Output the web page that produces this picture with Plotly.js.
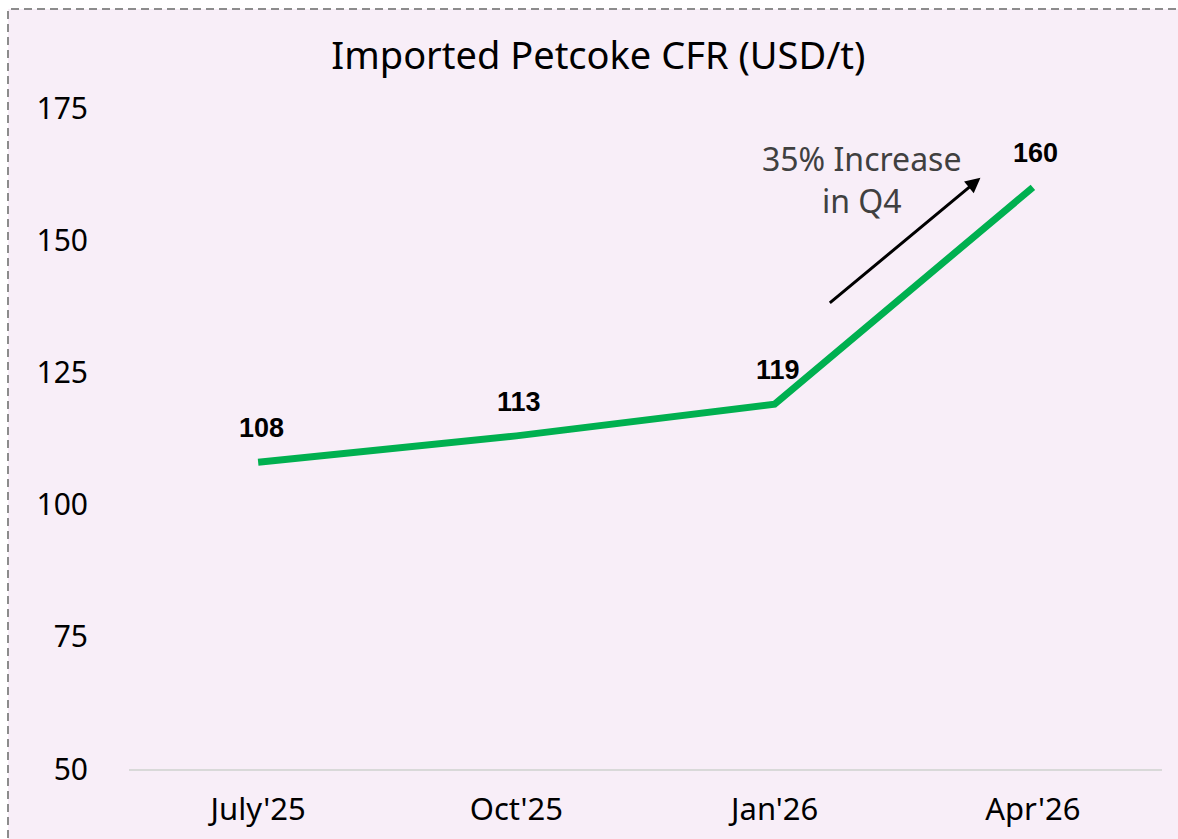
<!DOCTYPE html>
<html><head><meta charset="utf-8">
<script src="https://cdn.plot.ly/plotly-3.0.1.min.js"></script>
<style>html,body{margin:0;padding:0;background:#fff;}#chart{width:1178px;height:839px;}</style>
</head><body><div id="chart"></div>
<script>
const categories = ["July'25", "Oct'25", "Jan'26", "Apr'26"];
const prices = [108, 113, 119, 160];
const yTicks = [50, 75, 100, 125, 150, 175];
const titleText = "Imported Petcoke CFR (USD/t)";
const noteText = "35% Increase<br>in Q4";

const trace = {
  x: [0, 1, 2, 3], y: prices, type: 'scatter', mode: 'lines',
  line: {color: '#00B050', width: 7}, hoverinfo: 'skip'
};

const labelAnn = prices.map((v, i) => ({
  x: i, y: v, xref: 'x', yref: 'y', text: '<b>' + v + '</b>', showarrow: false,
  yanchor: 'bottom', yshift: 17, xshift: 3,
  font: {family: 'Liberation Sans, Arial, sans-serif', size: 27, color: '#000'}
}));

const layout = {
  width: 1178, height: 839,
  paper_bgcolor: '#ffffff', plot_bgcolor: 'rgba(0,0,0,0)',
  margin: {l: 129, r: 16, t: 108, b: 70},
  showlegend: false,
  title: {text: titleText, x: 0.508, xref: 'container', y: 0.934, yref: 'container',
          xanchor: 'center', yanchor: 'middle',
          font: {family: 'Noto Sans, sans-serif', size: 38, color: '#000'}},
  xaxis: {
    range: [-0.5, 3.5], tickmode: 'array', tickvals: [0, 1, 2, 3], ticktext: categories,
    showgrid: false, zeroline: false, showline: true, linecolor: '#D9D9D9', linewidth: 2,
    ticks: '', ticklabelstandoff: 12,
    tickfont: {family: 'Noto Sans, sans-serif', size: 31, color: '#000'}, fixedrange: true
  },
  yaxis: {
    range: [50, 175], tickmode: 'array', tickvals: yTicks,
    showgrid: false, zeroline: false, showline: false, ticks: '',
    ticklabelstandoff: 40,
    tickfont: {family: 'Noto Sans, sans-serif', size: 30, color: '#000'}, fixedrange: true
  },
  shapes: [{
    type: 'rect', xref: 'paper', yref: 'paper', layer: 'below',
    x0: (8 - 129) / 1033, x1: (1200 - 129) / 1033,
    y0: (769 - 860) / 661, y1: (769 - 9) / 661,
    fillcolor: '#F8EEF8', line: {color: '#8C8C8C', width: 2, dash: '8px,5px'}
  }],
  annotations: labelAnn.concat([
    {x: 2.797, y: 161.8, ax: 2.208, ay: 137.9, xref: 'x', yref: 'y', axref: 'x', ayref: 'y',
     text: '', showarrow: true, arrowhead: 2, arrowsize: 1, arrowwidth: 3, arrowcolor: '#000'},
    {x: 2.336, y: 161.5, xref: 'x', yref: 'y', text: noteText, showarrow: false,
     align: 'center', font: {family: 'Noto Sans, sans-serif', size: 32, color: '#404040'}}
  ])
};

Plotly.newPlot('chart', [trace], layout, {displayModeBar: false, staticPlot: true});
</script></body></html>
